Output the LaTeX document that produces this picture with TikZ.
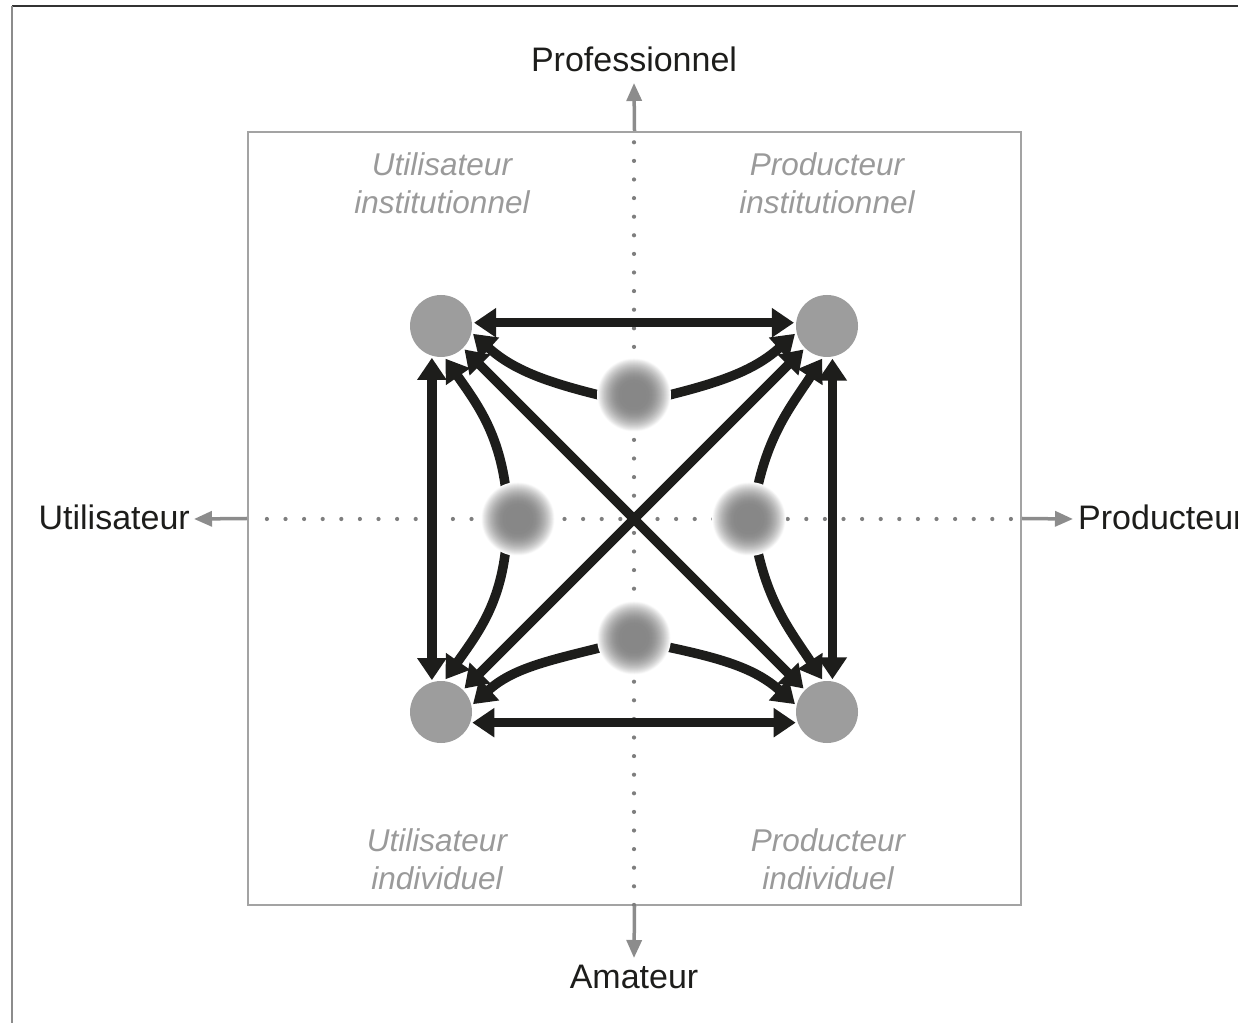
\documentclass[tikz,border=0pt]{standalone}
\usepackage{fontspec}
\setmainfont{Liberation Sans}
\usetikzlibrary{arrows.meta}
\definecolor{arrowblack}{HTML}{1D1D1B}
\definecolor{cornergray}{HTML}{9D9D9D}
\definecolor{blurgray}{HTML}{878787}
\definecolor{axisgray}{HTML}{8C8C8C}
\definecolor{boxgray}{HTML}{A3A3A3}
\definecolor{quadgray}{HTML}{9A9A9A}
\definecolor{dotgray}{HTML}{7E7E7E}
\tikzset{
  corner/.style={circle, fill=cornergray, draw=none, minimum size=62pt, inner sep=0pt},
  blurspot/.style={circle, draw=none, minimum size=70pt, inner sep=0pt},
  bigarrow/.style={line width=9.5pt, draw=arrowblack, arrows={-Triangle[length=22pt,width=28pt]}, shorten >=2pt},
  bothways/.style={line width=9.5pt, draw=arrowblack, arrows={Triangle[length=22pt,width=28pt]-Triangle[length=22pt,width=28pt]}, shorten >=2pt, shorten <=2pt},
  axisarrow/.style={line width=3.5pt, draw=axisgray, arrows={-Triangle[length=18pt,width=15pt]}},
  dotline/.style={draw=dotgray, line width=4.2pt, line cap=round, dash pattern=on 0pt off 18.6pt},
  axislabel/.style={text=arrowblack, font=\fontsize{34}{40}\selectfont, inner sep=0pt},
  quadlabel/.style={text=quadgray, font=\fontsize{31.5}{38}\selectfont\itshape, align=center, inner sep=0pt}
}
\begin{document}
\begin{tikzpicture}[x=1pt,y=1pt]
\useasboundingbox (0,0) rectangle (1238,1023);
\clip (0,0) rectangle (1238,1023);
% outer frame (partial)
\draw[line width=2pt, draw=black!80] (12,1017) -- (1238,1017);
\draw[line width=2.5pt, draw=black!45] (12,1017) -- (12,0);
% inner box
\node[draw=boxgray, line width=2pt, minimum width=773pt, minimum height=773pt, inner sep=0pt] (box) at (634.5,504.5) {};
% dotted axes
\coordinate (vtop) at (634,880.7);
\coordinate (vbot) at (634,118);
\coordinate (hleft) at (266.9,504);
\coordinate (hright) at (1021,504);
\draw[dotline] (vtop) -- (vbot);
\draw[dotline] (hleft) -- (hright);
% axis arrows
\coordinate (atop) at (634,940);
\coordinate (abot) at (634,65);
\coordinate (aleft) at (194,504);
\coordinate (aright) at (1073,504);
\draw[axisarrow] (box.north) -- (atop);
\draw[axisarrow] (box.south) -- (abot);
\draw[axisarrow] (box.west) -- (aleft);
\draw[axisarrow] (box.east) -- (aright);
% axis labels
\node[axislabel] (prof) at (634,964) {Professionnel};
\node[axislabel] (amat) at (634,46) {Amateur};
\node[axislabel, anchor=east] (util) at (190,506) {Utilisateur};
\node[axislabel, anchor=west] (prod) at (1078,506) {Producteur};
% quadrant labels
\node[quadlabel] (qui) at (442,840) {Utilisateur\\institutionnel};
\node[quadlabel] (qpi) at (827,840) {Producteur\\institutionnel};
\node[quadlabel] (quind) at (437,164) {Utilisateur\\individuel};
\node[quadlabel] (qpind) at (828,164) {Producteur\\individuel};
% corner circles
\node[corner] (TL) at (441,697) {};
\node[corner] (TR) at (827,697) {};
\node[corner] (BL) at (441,311) {};
\node[corner] (BR) at (827,311) {};
% blur spots (anchors)
\node[blurspot] (bT) at (634,628) {};
\node[blurspot] (bB) at (634,385) {};
\node[blurspot] (bL) at (518,504) {};
\node[blurspot] (bR) at (749,504) {};
% straight arrows
\draw[bothways] (TL.6) -- (TR.174);
\draw[bothways] (BL.-20) -- (BR.200);
\draw[bothways] (TL.-107) -- (BL.107);
\draw[bothways] (TR.-80) -- (BR.80);
\draw[bothways] (TL) -- (BR);
\draw[bothways] (TR) -- (BL);
% curved arrows
\draw[bigarrow] (bT.180) to[out=166,in=-42] (TL.-12);
\draw[bigarrow] (bT.0) to[out=14,in=222] (TR.192);
\draw[bigarrow] (bB.196) to[out=194,in=42] (BL.12);
\draw[bigarrow] (bB.-15) to[out=-12,in=138] (BR.168);
\draw[bigarrow] (bL.111) to[out=98,in=-55] (TL.-84);
\draw[bigarrow] (bL.249) to[out=263,in=55] (BL.84);
\draw[bigarrow] (bR.75) to[out=77,in=237] (TR.263);
\draw[bigarrow] (bR.285) to[out=283,in=123] (BR.97);
% blurred spots
\foreach \c in {bT,bB,bL,bR}{
  \foreach \r in {37,36.5,...,0.5}{
    \pgfmathtruncatemacro\p{max(0,min(100,100*(1-(max(0,\r-12)/25)^2)))}
    \fill[blurgray!\p!white] (\c) circle[radius=\r pt];
  }
}
\end{tikzpicture}
\end{document}
